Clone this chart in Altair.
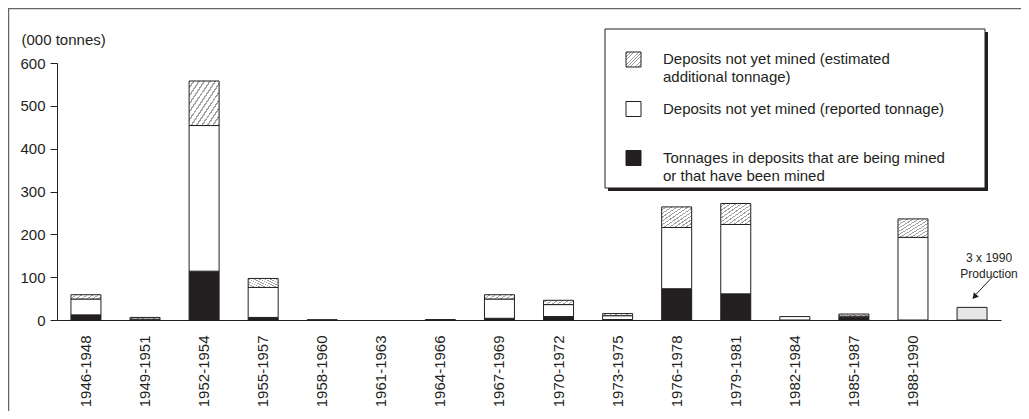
import altair as alt
import pandas as pd

periods = ["1946-1948", "1949-1951", "1952-1954", "1955-1957", "1958-1960",
           "1961-1963", "1964-1966", "1967-1969", "1970-1972", "1973-1975",
           "1976-1978", "1979-1981", "1982-1984", "1985-1987", "1988-1990"]
mined = [12, 0, 114, 6, 0, 0, 0, 4, 8, 1, 73, 61, 0, 6, 0]
reported = [37, 2, 340, 70, 0.6, 0, 1, 45, 28, 9, 143, 162, 8, 3, 193]
estimated = [10, 4, 104, 21, 0, 0, 0, 10, 10, 5, 48, 49, 0, 5, 43]
production_cat = "Production"
production_value = 29.5

legend_labels = ["Deposits not yet mined (estimated\nadditional tonnage)",
                 "Deposits not yet mined (reported tonnage)",
                 "Tonnages in deposits that are being mined\nor that have been mined"]
y_title = "(000 tonnes)"
annotation_text = "3 x 1990\nProduction"

rows = []
for p, m, r, e in zip(periods, mined, reported, estimated):
    lo = 0
    for s, v in (("mined", m), ("reported", r), ("estimated", e)):
        if v > 0:
            rows.append({"period": p, "series": s, "lo": lo, "hi": lo + v})
        lo += v
rows.append({"period": production_cat, "series": "production", "lo": 0, "hi": production_value})
df = pd.DataFrame(rows)

order = periods + [production_cat]
FONT = "Liberation Sans"
INK = "#231f20"
FS = 15

stops = []
n = 11
for i in range(n):
    a = i / n
    b = (i + 0.7) / n
    c = (i + 1) / n
    stops += [{"offset": a, "color": "#ffffff"}, {"offset": b, "color": "#ffffff"},
              {"offset": b, "color": "#a0a0a0"}, {"offset": c, "color": "#a0a0a0"}]
hatch = {"gradient": "linear", "x1": 0, "y1": 0, "x2": 1, "y2": 1, "stops": stops}

xscale = alt.Scale(domain=order, paddingInner=0.5, paddingOuter=0.24)
yscale = alt.Scale(domain=[0, 600], nice=False)

x_enc = alt.X("period:N", scale=xscale, sort=order,
              axis=alt.Axis(title=None, labelAngle=-90, ticks=False, labelPadding=15,
                            labelFontSize=FS, labelFont=FONT, labelColor=INK,
                            domainColor=INK, domainWidth=1,
                            labelExpr="datum.label == 'Production' ? '' : datum.label"))
y_enc = alt.Y("lo:Q", scale=yscale,
              axis=alt.Axis(values=[0, 100, 200, 300, 400, 500, 600], grid=False,
                            tickSize=7, tickColor=INK, domainColor=INK, labelPadding=5,
                            labelFontSize=FS, labelFont=FONT, labelColor=INK,
                            title=y_title, titleAngle=0, titleAlign="left",
                            titleBaseline="middle", titleX=-36, titleY=-24,
                            titleFontSize=FS, titleFont=FONT, titleFontWeight="normal",
                            titleColor=INK))

base = alt.Chart(df).encode(x=x_enc, y=y_enc, y2="hi:Q")

def seg(series, fill):
    return base.transform_filter(alt.datum.series == series).mark_bar(
        size=30, fill=fill, stroke=INK, strokeWidth=1)

bars = alt.layer(
    seg("mined", INK),
    seg("reported", "#ffffff"),
    seg("estimated", hatch),
    seg("production", "#e6e6e6"),
)

ann_df = pd.DataFrame({"period": [production_cat], "label": [annotation_text]})
ann = alt.Chart(ann_df)
ann_text = ann.mark_text(fontSize=12, font=FONT, color=INK, lineBreak="\n",
                         lineHeight=16, xOffset=17, baseline="middle").encode(
    x=alt.X("period:N", scale=xscale), y=alt.datum(145), text="label:N")
ann_line = ann.mark_rule(color=INK, strokeWidth=1, xOffset=21, x2Offset=4).encode(
    x=alt.X("period:N", scale=xscale), x2=alt.X2("period"),
    y=alt.datum(102), y2=alt.datum(60))
ann_head = ann.mark_point(shape="triangle", angle=222, filled=True, size=45,
                          color=INK, opacity=1, xOffset=3).encode(
    x=alt.X("period:N", scale=xscale), y=alt.datum(56))

# frame around the figure (right and bottom edges lie beyond the picture)
frame = alt.Chart(pd.DataFrame({"k": [0]})).mark_rect(
    fill="transparent", stroke="#666666", strokeWidth=1.5).encode(
    x=alt.value(-48.5), x2=alt.value(1200), y=alt.value(-54.5), y2=alt.value(1200))

# legend box with drop shadow
leg_df = pd.DataFrame({"k": [0]})
shadow = alt.Chart(leg_df).mark_rect(fill=INK).encode(
    x=alt.value(551), x2=alt.value(931), y=alt.value(-31), y2=alt.value(128))
box = alt.Chart(leg_df).mark_rect(fill="#ffffff", stroke=INK, strokeWidth=1).encode(
    x=alt.value(548), x2=alt.value(928), y=alt.value(-34), y2=alt.value(125))

sym_fills = [hatch, "#ffffff", INK]
sym_y = [-3.5, 46, 95]
text_y = [-4, 46, 94.5]
legend_layers = [shadow, box]
for lab, f, sy, ty in zip(legend_labels, sym_fills, sym_y, text_y):
    d = pd.DataFrame({"label": [lab]})
    legend_layers.append(alt.Chart(d).mark_rect(fill=f, stroke=INK, strokeWidth=1).encode(
        x=alt.value(569), x2=alt.value(584), y=alt.value(sy - 7.5), y2=alt.value(sy + 7.5)))
    legend_layers.append(alt.Chart(d).mark_text(
        align="left", baseline="middle", fontSize=FS, font=FONT, color=INK,
        lineBreak="\n", lineHeight=18).encode(
        x=alt.value(606), y=alt.value(ty), text="label:N"))

chart = alt.layer(frame, bars, ann_text, ann_line, ann_head, *legend_layers).properties(
    width=944, height=257,
    background="#ffffff",
    autosize=alt.AutoSizeParams(type="none"),
    padding={"left": 49, "top": 55, "right": 20, "bottom": 91},
).configure_view(strokeWidth=0)

chart.save("out.html", embed_options={"renderer": "svg", "actions": False})
